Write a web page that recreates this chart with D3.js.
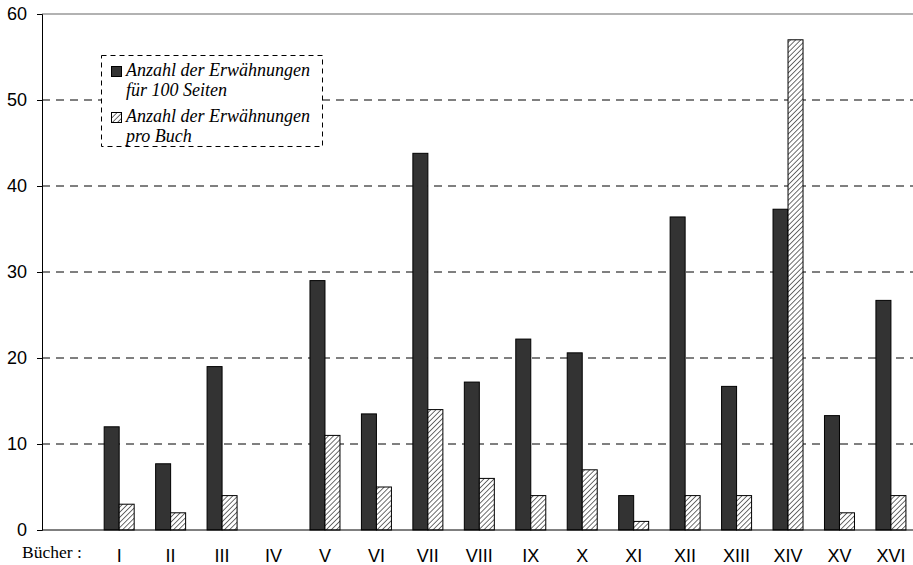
<!DOCTYPE html>
<html>
<head>
<meta charset="utf-8">
<script src="https://cdn.jsdelivr.net/npm/d3@7"></script>
<style>
  body { margin: 0; background: #fff; }
  svg { display: block; }
</style>
</head>
<body>
<script>
// books and the two series
var books = ["I", "II", "III", "IV", "V", "VI", "VII", "VIII", "IX", "X", "XI", "XII", "XIII", "XIV", "XV", "XVI"];
var per100 = [12, 7.7, 19, 0, 29, 13.5, 43.8, 17.2, 22.2, 20.6, 4, 36.4, 16.7, 37.3, 13.3, 26.7];
var perBook = [3, 2, 4, 0, 11, 5, 14, 6, 4, 7, 1, 4, 4, 57, 2, 4];
var yTicks = [0, 10, 20, 30, 40, 50, 60];
var legendLines = [
  ["Anzahl der Erwähnungen", "für 100 Seiten"],
  ["Anzahl der Erwähnungen", "pro Buch"]
];

var W = 913, H = 565;
var padL = 42, padT = 14, baseY = 530; // note: "top" is taken by window.top

var svg = d3.select("body").append("svg").attr("width", W).attr("height", H);

// hatch for the per-book bars
var pat = svg.append("defs").append("pattern")
  .attr("id", "hatch").attr("patternUnits", "userSpaceOnUse")
  .attr("width", 3.6).attr("height", 3.6).attr("patternTransform", "rotate(45)");
pat.append("rect").attr("width", 3.6).attr("height", 3.6).attr("fill", "#fff");
pat.append("line").attr("x1", 0).attr("y1", 0).attr("x2", 0).attr("y2", 3.6)
  .attr("stroke", "#555").attr("stroke-width", 1.7);

// empty first band keeps room before book I
var x = d3.scaleBand().domain([""].concat(books)).range([padL, padL + 17 * 51.45]).paddingInner(0);
var y = d3.scaleLinear().domain([0, 60]).range([baseY, padT]);
var sub = d3.scaleBand().domain([0, 1]).range([0, 30]);
var off = (x.bandwidth() - 30) / 2;

// gridlines
svg.selectAll(".grid").data(yTicks.filter(function(t) { return t > 0 && t < 60; }))
  .enter().append("line")
  .attr("x1", padL).attr("x2", W)
  .attr("y1", function(d) { return y(d); }).attr("y2", function(d) { return y(d); })
  .attr("stroke", "#000").attr("stroke-dasharray", "8,6").attr("stroke-width", 1);
svg.append("line").attr("x1", padL).attr("x2", W).attr("y1", y(60)).attr("y2", y(60))
  .attr("stroke", "#999").attr("stroke-width", 1.5);

// bars
var g = svg.append("g");
g.selectAll(".dark").data(books).enter().append("rect")
  .attr("x", function(d) { return x(d) + off + sub(0); })
  .attr("width", sub.bandwidth())
  .attr("y", function(d, i) { return y(per100[i]); })
  .attr("height", function(d, i) { return baseY - y(per100[i]); })
  .attr("fill", "#333").attr("stroke", "#000").attr("stroke-width", 1)
  .style("display", function(d, i) { return per100[i] > 0 ? null : "none"; });
g.selectAll(".hatched").data(books).enter().append("rect")
  .attr("x", function(d) { return x(d) + off + sub(1); })
  .attr("width", sub.bandwidth())
  .attr("y", function(d, i) { return y(perBook[i]); })
  .attr("height", function(d, i) { return baseY - y(perBook[i]); })
  .attr("fill", "url(#hatch)").attr("stroke", "#000").attr("stroke-width", 1)
  .style("display", function(d, i) { return perBook[i] > 0 ? null : "none"; });

// axes
var yAxis = svg.append("g").attr("transform", "translate(" + padL + ",0)")
  .call(d3.axisLeft(y).tickValues(yTicks).tickSize(5).tickPadding(10));
yAxis.select(".domain").attr("stroke", "#000");
yAxis.selectAll("text").attr("font-family", "Liberation Sans, Arial, sans-serif")
  .attr("font-size", 18).attr("fill", "#000");

svg.append("line").attr("x1", padL).attr("x2", W).attr("y1", baseY).attr("y2", baseY)
  .attr("stroke", "#000").attr("stroke-width", 1);

svg.selectAll(".xlab").data(books).enter().append("text")
  .attr("x", function(d) { return x(d) + x.bandwidth() / 2; })
  .attr("y", 562)
  .attr("text-anchor", "middle")
  .attr("font-family", "Liberation Sans, Arial, sans-serif").attr("font-size", 18)
  .text(function(d) { return d; });
svg.append("text").attr("x", 22).attr("y", 558)
  .attr("font-family", "Liberation Serif, Times New Roman, serif").attr("font-size", 17.5)
  .text("Bücher :");

// legend
var lg = svg.append("g");
lg.append("rect").attr("x", 101.5).attr("y", 55.5).attr("width", 221).attr("height", 91)
  .attr("fill", "#fff").attr("stroke", "#000").attr("stroke-dasharray", "5,4");
var fills = ["#333", "url(#hatch)"];
legendLines.forEach(function(lines, i) {
  var by = 66 + i * 46;
  lg.append("rect").attr("x", 111.5).attr("y", by + 0.5).attr("width", 10).attr("height", 10)
    .attr("fill", fills[i]).attr("stroke", "#000");
  lines.forEach(function(t, j) {
    lg.append("text").attr("x", 126).attr("y", by + 10 + j * 20)
      .attr("font-family", "Liberation Serif, Times New Roman, serif")
      .attr("font-style", "italic").attr("font-size", 18)
      .text(t);
  });
});
</script>
</body>
</html>
